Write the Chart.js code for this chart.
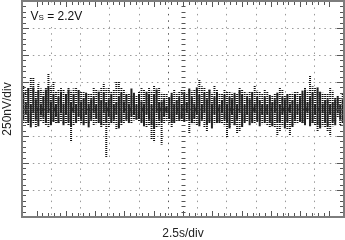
<!DOCTYPE html>
<html>
<head>
<meta charset="utf-8">
<script src="https://cdn.jsdelivr.net/npm/chart.js@4"></script>
<style>
html,body{margin:0;padding:0;background:#fff;}
</style>
</head>
<body>
<canvas id="scope" width="345" height="240"></canvas>
<script>
// noise trace, 128 columns over 10 divisions, values in nV (250 nV/div)
const spikeHi = [
  222,180, 200,287, 296,160, 241,190, 170,194, 333,210, 250,160, 180,194,
  176,150, 204,170, 190,204, 176,160, 157,150, 148,140, 204,180, 170,194,
  241,190, 194,160, 180,250, 250,200, 176,150, 148,130, 111,120, 160,194,
  176,150, 194,170, 222,190, 204,150, 148,140, 111,130, 176,150, 160,176,
  176,150, 176,170, 180,176, 269,210, 204,160, 176,150, 222,180, 148,140,
  176,160, 157,150, 130,140, 204,180, 157,150, 160,157, 222,170, 157,140,
  176,160, 102,130, 148,150, 204,180, 130,140, 148,150, 157,160, 148,140,
  204,170, 315,210, 194,160, 157,150, 148,140, 194,170, 111,130, 102,140
];
const spikeLo = [
  -130,-130, -148,-120, -140,-167, -120,-110, -130,-148, -167,-140, -120,-130, -133,-110,
  -130,-130, -150,-306, -150,-120, -120,-130, -140,-130, -133,-110, -148,-140, -130,-167,
  -150,-444, -176,-140, -140,-194, -176,-150, -133,-110, -120,-130, -106,-100, -120,-120,
  -140,-167, -150,-287, -306,-170, -160,-330, -133,-110, -140,-167, -133,-110, -120,-120,
  -106,-110, -222,-140, -140,-148, -133,-110, -170,-213, -133,-120, -140,-120, -130,-130,
  -160,-269, -167,-140, -150,-222, -213,-170, -130,-120, -102,-120, -130,-102, -120,-140,
  -140,-148, -167,-150, -170,-241, -213,-160, -150,-194, -241,-170, -140,-130, -120,-130,
  -120,-102, -148,-140, -150,-213, -167,-160, -170,-213, -241,-160, -110,-83, -148,-140
];
const coreHi = [
  150, 60, 190, 40, 200, 90, 170, 50, 120, 180, 210, 70, 140, 40, 110, 160,
  50, 130, 180, 60, 140, 40, 170, 70, 100, 150, 50, 90, 110, 40, 160, 80,
  150, 60, 90, 140, 40, 60, 120, 150, 70, 130, 50, 190, 150, 40, 130, 70,
  50, 160, 140, 40, 130, 180, 60, 70, 90, 30, 110, 150, 50, 80, 110, 40,
  130, 60, 190, 110, 50, 200, 130, 40, 150, 90, 180, 50, 110, 150, 40, 80,
  130, 50, 110, 90, 150, 40, 170, 130, 40, 110, 90, 150, 50, 110, 80, 40,
  110, 40, 130, 60, 90, 150, 40, 110, 90, 130, 50, 80, 130, 50, 110, 170,
  180, 60, 110, 150, 40, 200, 160, 50, 80, 90, 40, 60, 90, 110, 40, 90
];
const coreLo = [
  -100, -50, -120, -170, -40, -100, -160, -60, -80, -130, -40, -150, -120, -70, -130, -40,
  -150, -50, -120, -160, -40, -130, -70, -100, -150, -50, -170, -100, -40, -90, -120, -150,
  -40, -130, -70, -120, -100, -50, -180, -120, -40, -100, -130, -70, -50, -100, -90, -130,
  -160, -50, -100, -150, -180, -40, -100, -120, -70, -40, -90, -130, -120, -50, -100, -90,
  -120, -40, -100, -130, -90, -50, -160, -100, -40, -150, -120, -180, -50, -130, -120, -40,
  -100, -130, -180, -50, -150, -100, -40, -160, -120, -50, -150, -130, -40, -120, -160, -50,
  -120, -50, -130, -160, -40, -130, -120, -50, -180, -120, -40, -160, -100, -50, -120, -130,
  -150, -40, -160, -130, -50, -150, -180, -40, -130, -160, -50, -120, -150, -40, -100, -120
];
const xTitle = "2.5s/div";
const yTitle = "250nV/div";
const supplyLabel = ["V", "S", " = 2.2V"];

const FONT = "'Liberation Sans', Arial, Helvetica, sans-serif";

// dotted fill for the sparse spikes
const pc = document.createElement("canvas");
pc.width = 1; pc.height = 2;
const pctx = pc.getContext("2d");
pctx.fillStyle = "#111";
pctx.fillRect(0, 0, 1, 1);
const dots = pctx.createPattern(pc, "repeat");

function gridColor(centerValue) {
  return c => (c.tick && c.tick.value === centerValue) ? "#555" : "#9a9a9a";
}

const scopeFrame = {
  id: "scopeFrame",
  beforeDatasetsDraw(chart) {
    const {ctx, scales: {xg, y}} = chart;
    const cx = Math.round(xg.getPixelForValue(5)) + 0.5;
    const cy = Math.round(y.getPixelForValue(0)) + 0.5;
    ctx.save();
    ctx.strokeStyle = "#555";
    ctx.lineWidth = 1;
    ctx.beginPath();
    for (let i = 0; i <= 50; i++) {
      const px = Math.round(xg.getPixelForValue(i / 5)) + 0.5;
      ctx.moveTo(px, cy - 2); ctx.lineTo(px, cy + 2);
    }
    for (let j = 0; j <= 40; j++) {
      const py = Math.round(y.getPixelForValue(-1000 + j * 50)) + 0.5;
      ctx.moveTo(cx - 2, py); ctx.lineTo(cx + 2, py);
    }
    ctx.stroke();
    ctx.restore();
  },
  afterDatasetsDraw(chart) {
    const {ctx, chartArea: a, scales: {xg, y}} = chart;
    ctx.save();
    // label box
    ctx.fillStyle = "#fff";
    ctx.fillRect(a.left + 5, a.top + 4, 60, 22);
    // frame ticks
    ctx.strokeStyle = "#555";
    ctx.lineWidth = 1;
    ctx.beginPath();
    for (let i = 0; i <= 50; i++) {
      const px = Math.round(xg.getPixelForValue(i / 5)) + 0.5;
      const len = i % 5 === 0 ? 6 : 4;
      ctx.moveTo(px, a.top); ctx.lineTo(px, a.top + len);
      ctx.moveTo(px, a.bottom); ctx.lineTo(px, a.bottom - len);
    }
    for (let j = 0; j <= 40; j++) {
      const py = Math.round(y.getPixelForValue(-1000 + j * 50)) + 0.5;
      const len = j % 5 === 0 ? 7 : 4;
      ctx.moveTo(a.left, py); ctx.lineTo(a.left + len, py);
      ctx.moveTo(a.right, py); ctx.lineTo(a.right - len, py);
    }
    ctx.stroke();
    ctx.strokeStyle = "#7d7d7d";
    ctx.lineWidth = 2;
    ctx.strokeRect(a.left, a.top, a.right - a.left, a.bottom - a.top);
    // supply label
    ctx.fillStyle = "#111";
    ctx.textBaseline = "alphabetic";
    ctx.font = "12px " + FONT;
    let tx = a.left + 8.5;
    const ty = 19.5;
    ctx.fillText(supplyLabel[0], tx, ty);
    tx += ctx.measureText(supplyLabel[0]).width;
    ctx.font = "8px " + FONT;
    ctx.fillText(supplyLabel[1], tx, ty + 0.7);
    tx += ctx.measureText(supplyLabel[1]).width;
    ctx.font = "12px " + FONT;
    ctx.fillText(supplyLabel[2], tx, ty);
    ctx.restore();
  }
};

const labels = spikeHi.map((v, i) => String(i));

new Chart(document.getElementById("scope"), {
  type: "bar",
  data: {
    labels: labels,
    datasets: [
      {
        label: "core",
        data: coreLo.map((lo, i) => [lo, coreHi[i]]),
        backgroundColor: "#222",
        borderWidth: 0,
        barPercentage: 0.8,
        categoryPercentage: 1,
        grouped: false,
        order: 1
      },
      {
        label: "spikes",
        data: spikeLo.map((lo, i) => [lo, spikeHi[i]]),
        backgroundColor: dots,
        borderWidth: 0,
        barPercentage: 0.8,
        categoryPercentage: 1,
        grouped: false,
        order: 2
      }
    ]
  },
  options: {
    responsive: false,
    animation: false,
    devicePixelRatio: 1,
    layout: {padding: {top: 1, right: 1, left: 0, bottom: 0}},
    plugins: {legend: {display: false}, tooltip: {enabled: false}},
    scales: {
      x: {type: "category", display: false, offset: true},
      xg: {
        type: "linear", position: "bottom", min: 0, max: 10,
        ticks: {display: false, stepSize: 1},
        grid: {drawTicks: false, color: gridColor(5)},
        border: {display: false, dash: [1.5, 4.94]},
        title: {display: true, text: xTitle, color: "#222",
          font: {family: FONT, size: 12, lineHeight: 1}, padding: {top: 11, bottom: 0}}
      },
      y: {
        min: -1000, max: 1000,
        ticks: {display: false, stepSize: 250},
        grid: {drawTicks: false, color: gridColor(0)},
        border: {display: false, dash: [1.5, 3.9]},
        title: {display: true, text: yTitle, color: "#222",
          font: {family: FONT, size: 12, lineHeight: 1}, padding: {top: 2, bottom: 8}}
      }
    }
  },
  plugins: [scopeFrame]
});
</script>
</body>
</html>
